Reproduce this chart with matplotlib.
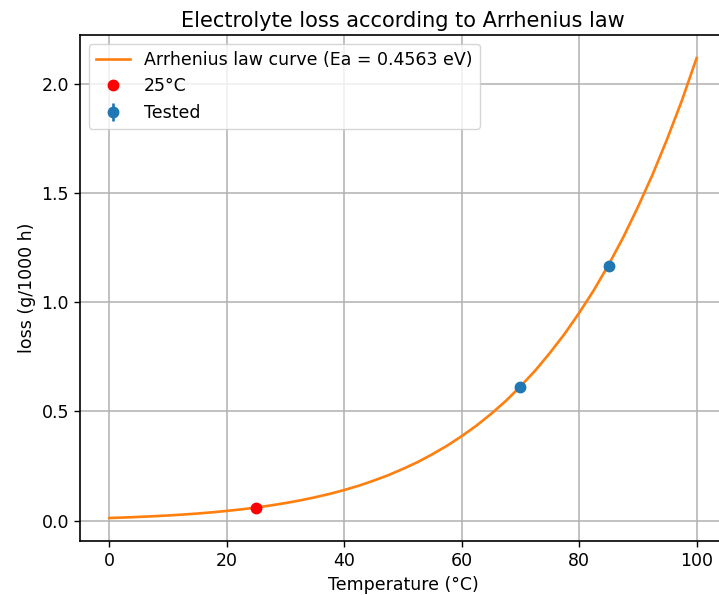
import numpy as np
import matplotlib
matplotlib.use("Agg")
import matplotlib.pyplot as plt

# curve (every 2.5 degC)
curve_temp = [0, 2.5, 5, 7.5, 10, 12.5, 15, 17.5, 20, 22.5, 25, 27.5, 30,
              32.5, 35, 37.5, 40, 42.5, 45, 47.5, 50, 52.5, 55, 57.5, 60,
              62.5, 65, 67.5, 70, 72.5, 75, 77.5, 80, 82.5, 85, 87.5, 90,
              92.5, 95, 97.5, 100]
curve_loss = [0.0118, 0.0140, 0.0167, 0.0198, 0.0234, 0.0275, 0.0323, 0.0378,
              0.0443, 0.0515, 0.0599, 0.0694, 0.0803, 0.0925, 0.1066, 0.1222,
              0.140, 0.160, 0.183, 0.208, 0.237, 0.268, 0.304, 0.343, 0.387,
              0.435, 0.489, 0.548, 0.615, 0.687, 0.768, 0.855, 0.952, 1.056,
              1.172, 1.298, 1.437, 1.586, 1.750, 1.926, 2.120]

ref_temp = [25]
ref_loss = [0.059]

tested_temp = [70, 85]
tested_loss = [0.614, 1.168]
tested_err = [0.005, 0.005]

plt.rcParams['font.size'] = 12.5
plt.rcParams['lines.linewidth'] = 1.9
plt.rcParams['lines.markersize'] = 7.5

fig = plt.figure(figsize=(7.19, 5.95), dpi=100)
ax = fig.add_axes([80 / 719, 54 / 595, 646 / 719, 506 / 595])

ax.plot(curve_temp, curve_loss, color="tab:orange",
        label="Arrhenius law curve (Ea = 0.4563 eV)")
ax.plot(ref_temp, ref_loss, "o", color="red", label="25°C", zorder=3)
ax.errorbar(tested_temp, tested_loss, yerr=tested_err, fmt="o",
            color="tab:blue", label="Tested", zorder=3)

ax.set_xlim(-5, 105)
ax.set_title("Electrolyte loss according to Arrhenius law", fontsize=15)
ax.set_xlabel("Temperature (°C)")
ax.set_ylabel("loss (g/1000 h)")
ax.tick_params(length=4.5, width=1)
for s in ax.spines.values():
    s.set_linewidth(1.2)
ax.grid(True, linewidth=1.1)
ax.legend(loc="upper left")

fig.savefig("out.png", dpi=100)
